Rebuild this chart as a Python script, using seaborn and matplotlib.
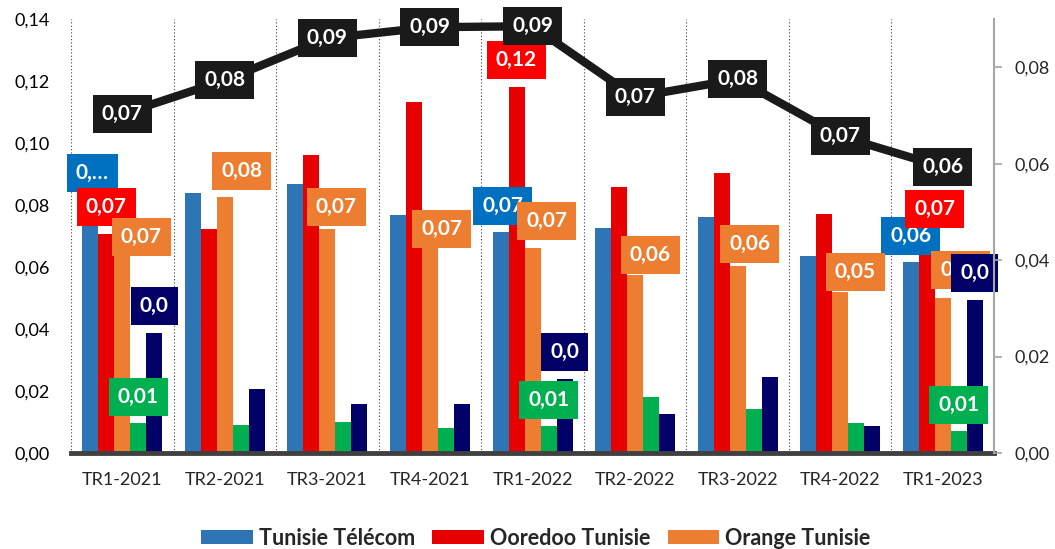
import numpy as np
import pandas as pd
import seaborn as sns
import matplotlib.pyplot as plt
from matplotlib.patches import Patch

# ---- data ----
categories = ["TR1-2021", "TR2-2021", "TR3-2021", "TR4-2021", "TR1-2022",
              "TR2-2022", "TR3-2022", "TR4-2022", "TR1-2023"]
series = ["Tunisie Télécom", "Ooredoo Tunisie", "Orange Tunisie", "Série 4", "Série 5"]

tunisie_telecom = [0.082, 0.084, 0.0868, 0.0768, 0.0713, 0.0726, 0.0762, 0.0636, 0.0615]
ooredoo = [0.0706, 0.0723, 0.096, 0.1133, 0.118, 0.0857, 0.0902, 0.0771, 0.070]
orange = [0.066, 0.0826, 0.0723, 0.066, 0.066, 0.0574, 0.0604, 0.052, 0.050]
serie4 = [0.0097, 0.009, 0.010, 0.008, 0.0087, 0.018, 0.0142, 0.0096, 0.0071]
serie5 = [0.0387, 0.0206, 0.0158, 0.0158, 0.024, 0.0126, 0.0246, 0.0087, 0.0493]
ligne = [0.0703, 0.0773, 0.086, 0.0883, 0.0885, 0.0738, 0.0775, 0.0657, 0.0593]

# data labels as they appear (None = no label)
labels_tt = ["0,…", None, None, None, "0,07", None, None, None, "0,06"]
labels_oo = ["0,07", None, None, None, "0,12", None, None, None, "0,07"]
labels_or = ["0,07", "0,08", "0,07", "0,07", "0,07", "0,06", "0,06", "0,05", "0,05"]
labels_s4 = ["0,01", None, None, None, "0,01", None, None, None, "0,01"]
labels_s5 = ["0,0", None, None, None, "0,0", None, None, None, "0,0"]
labels_ligne = ["0,07", "0,08", "0,09", "0,09", "0,09", "0,07", "0,08", "0,07", "0,06"]

left_ticks = ["0,00", "0,02", "0,04", "0,06", "0,08", "0,10", "0,12", "0,14"]
right_ticks = ["0,00", "0,02", "0,04", "0,06", "0,08"]

# ---- styling ----
bar_colors = ["#2E75B6", "#E60000", "#ED7D31", "#00B050", "#000066"]
label_colors = ["#0070C0", "#FF0000", "#ED7D31", "#00B050", "#000066"]
line_color = "#1A1A1A"

# label offsets in pixels (dx, dy) from the bar top
offsets_tt = [(2, 26)] * 8 + [(0, 26)]
offsets_oo = [(0, 27)] * 8 + [(8, 27)]
offsets_or = [(19, 11), (17, 26), (9, 22), (12, 19), (14, 27), (15, 20), (12, 22), (15, 20), (18, 28)]
offsets_s4 = [(0, 26)] * 9
offsets_s5 = [(0, 27)] * 9

df = pd.DataFrame({
    "trimestre": categories,
    series[0]: tunisie_telecom,
    series[1]: ooredoo,
    series[2]: orange,
    series[3]: serie4,
    series[4]: serie5,
})
df_long = df.melt(id_vars="trimestre", var_name="operateur", value_name="valeur")

sns.set_style("white")
plt.rcParams['font.family'] = ['Lato', 'DejaVu Sans']

fig = plt.figure(figsize=(10.55, 5.49), dpi=100)
ax = fig.add_axes([0.0673, 0.1749, 0.8749, 0.7905])

sns.barplot(data=df_long, x="trimestre", y="valeur", hue="operateur",
            hue_order=series, palette=bar_colors, width=0.78, gap=0,
            saturation=1, linewidth=0, errorbar=None, legend=False, ax=ax)

ax.set_xlim(-0.5, 8.5)
ax.set_ylim(0, 0.14)
ax.set_xlabel("")
ax.set_ylabel("")
ax.set_yticks(np.arange(0, 0.141, 0.02))
ax.set_yticklabels(left_ticks)
ax.tick_params(axis="y", length=0, pad=15, labelsize=13, labelcolor="#000000")

ax.set_xticks(np.arange(-0.5, 9, 1))
ax.set_xticklabels([""] * 10)
ax.set_xticks(np.arange(len(categories)), minor=True)
ax.set_xticklabels(categories, minor=True)
ax.tick_params(axis="x", which="major", length=4, width=4, color="#404040", direction="out")
ax.tick_params(axis="x", which="minor", length=0, pad=14, labelsize=13)

ax.vlines(np.arange(-0.5, 8, 1), 0, 0.14, colors="#404040", linestyles=(0, (1, 2)), lw=0.8, zorder=0)

for s in ["left", "top", "right"]:
    ax.spines[s].set_visible(False)
ax.spines["bottom"].set_color("#404040")
ax.spines["bottom"].set_linewidth(3.5)

# bar data labels
all_labels = [labels_tt, labels_oo, labels_or, labels_s4, labels_s5]
all_offsets = [offsets_tt, offsets_oo, offsets_or, offsets_s4, offsets_s5]
for k, cont in enumerate(ax.containers):
    for i, bar in enumerate(cont):
        txt = all_labels[k][i]
        if txt is None:
            continue
        cx = bar.get_x() + bar.get_width() / 2
        top = bar.get_height()
        dx, dy = all_offsets[k][i]
        ax.annotate(txt, xy=(cx, top), xytext=(dx, dy), textcoords="offset pixels",
                    ha="center", va="center", color="white", fontsize=15, fontweight="bold",
                    bbox=dict(boxstyle="square,pad=0.43", fc=label_colors[k], ec="none"),
                    zorder=5, annotation_clip=False)

# ---- secondary axis: line ----
ax2 = ax.twinx()
sns.lineplot(x=categories, y=ligne, ax=ax2, color=line_color, lw=6, sort=False)
ax2.set_ylim(0, 0.09)
ax2.set_yticks(np.arange(0, 0.081, 0.02))
ax2.set_yticklabels(right_ticks)
ax2.tick_params(axis="y", length=6, width=1.2, color="#A6A6A6", pad=9, labelsize=13)
for s in ["left", "top", "bottom"]:
    ax2.spines[s].set_visible(False)
ax2.spines["right"].set_color("#A6A6A6")
ax2.spines["right"].set_linewidth(1.5)

for i, txt in enumerate(labels_ligne):
    ax2.annotate(txt, xy=(i, ligne[i]), xytext=(0, 0), textcoords="offset pixels",
                 ha="center", va="center", color="white", fontsize=15, fontweight="bold",
                 bbox=dict(boxstyle="square,pad=0.43", fc=line_color, ec="none"), zorder=6)

# ---- legend (only the three operators shown) ----
handles = [Patch(facecolor=c, edgecolor="none") for c in bar_colors[:3]]
fig.legend(handles, series[:3], loc="center", bbox_to_anchor=(0.508, 0.02), ncol=3,
           frameon=False, prop={"weight": "bold", "size": 15.5}, handlelength=2.4,
           handleheight=0.6, handletextpad=0.28, columnspacing=0.8)

fig.savefig("out.png", dpi=100)
